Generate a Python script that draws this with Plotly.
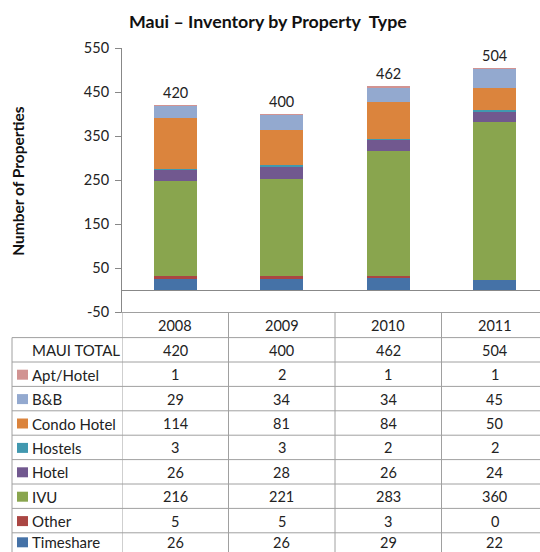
import plotly.graph_objects as go

# ---- data ----
years = ["2008", "2009", "2010", "2011"]
series_names = ["Apt/Hotel", "B&B", "Condo Hotel", "Hostels", "Hotel", "IVU", "Other", "Timeshare"]
apt_hotel = [1, 2, 1, 1]
bnb = [29, 34, 34, 45]
condo_hotel = [114, 81, 84, 50]
hostels = [3, 3, 2, 2]
hotel = [26, 28, 26, 24]
ivu = [216, 221, 283, 360]
other = [5, 5, 3, 0]
timeshare = [26, 26, 29, 22]
maui_total = [420, 400, 462, 504]
y_ticks = [-50, 50, 150, 250, 350, 450, 550]

series_values = [apt_hotel, bnb, condo_hotel, hostels, hotel, ivu, other, timeshare]
series_colors = ["#D19392", "#93A9CF", "#DB843D", "#4198AF", "#71588F", "#89A54E", "#AA4643", "#4572A7"]

FONT = "Lato, 'Open Sans', sans-serif"
W, H = 540, 552
L, R = 122, 0
TOP_PX, BOT_PX = 47.7, 311.7
PH = BOT_PX - TOP_PX
PW = W - L - R
COLW = 106.5

def px2py(py):
    return (BOT_PX - py) / PH

def px2px(px):
    return (px - L) / PW

xpos = list(range(len(years)))
fig = go.Figure()

# stacked bars, bottom to top = reverse of table order
for name, vals, col in reversed(list(zip(series_names, series_values, series_colors))):
    fig.add_trace(go.Bar(x=xpos, y=vals, name=name, marker=dict(color=col, line=dict(width=0)),
                         width=0.405, showlegend=False))

annos = []
# total labels
for xi, t in zip(xpos, maui_total):
    annos.append(dict(x=xi, y=t, xref="x", yref="y", text=str(t), showarrow=False,
                      xanchor="center", yanchor="middle",
                      yshift=13, font=dict(family=FONT, size=14.5, color="#222")))

shapes = []
LINE = "#a0a0a0"

# table geometry
header_top = BOT_PX
header_bot = 337.3
row_h = 24.4
row_labels = ["MAUI TOTAL"] + series_names
row_vals = [maui_total] + series_values
left_px = 12

def txt(x, y, text, xref="paper", xanchor="center", size=14.5, color="#222", **kw):
    d = dict(x=x, y=y, xref=xref, yref="paper", text=text, showarrow=False,
             xanchor=xanchor, yanchor="middle", font=dict(family=FONT, size=size, color=color))
    d.update(kw)
    return d

# header years
for xi, yr in zip(xpos, years):
    annos.append(txt(xi, px2py((header_top + header_bot) / 2 + 1), yr, xref="x"))

# vertical lines of table
for b in [-0.5, 0.5, 1.5, 2.5]:
    shapes.append(dict(type="line", xref="x", yref="paper", x0=b, x1=b, y0=0, y1=px2py(H + 5),
                       line=dict(color=LINE, width=1)))
shapes.append(dict(type="line", xref="paper", yref="paper", x0=px2px(left_px), x1=px2px(left_px),
                   y0=px2py(header_bot), y1=px2py(H + 5), line=dict(color=LINE, width=1)))

n_rows = len(row_labels)
for i, (lab, vals) in enumerate(zip(row_labels, row_vals)):
    top = header_bot + i * row_h
    shapes.append(dict(type="line", xref="paper", yref="paper", x0=px2px(left_px), x1=1,
                       y0=px2py(top), y1=px2py(top), line=dict(color=LINE, width=1)))
    cy = top + row_h / 2 + 0.5
    if i == n_rows - 1:
        cy = min(cy, H - 10)  # keep the last row's text inside the page
    annos.append(txt(px2px(30), px2py(cy), lab, xanchor="left", size=15))
    if i > 0:
        col = series_colors[i - 1]
        shapes.append(dict(type="rect", xref="paper", yref="paper", x0=px2px(17), x1=px2px(28),
                           y0=px2py(cy - 5), y1=px2py(cy + 5), fillcolor=col, line=dict(width=0)))
    for xi, v in zip(xpos, vals):
        annos.append(txt(xi, px2py(cy), str(v), xref="x"))

# title and axis title
annos.append(txt(px2px(268), px2py(21), "<b>Maui – Inventory by Property  Type</b>", size=17.8, color="#111"))
annos.append(txt(px2px(18.5), px2py(181), "<b>Number of Properties</b>", size=15.5, color="#111",
                 textangle=-90))

fig.update_layout(
    width=W, height=H,
    margin=dict(l=L, r=R, t=TOP_PX, b=H - BOT_PX, pad=0),
    paper_bgcolor="white", plot_bgcolor="white",
    barmode="stack", bargap=0.6,
    showlegend=False,
    xaxis=dict(range=[-0.5, -0.5 + PW / COLW], showticklabels=False, ticks="", showgrid=False,
               zeroline=False, showline=True, linecolor=LINE, linewidth=1, fixedrange=True),
    yaxis=dict(range=[-50, 550], tickvals=y_ticks, ticktext=[str(v) for v in y_ticks],
               ticks="outside", ticklen=6, tickcolor="#888",
               showline=True, linecolor="#888", linewidth=1, showgrid=False,
               zeroline=True, zerolinecolor="#888", zerolinewidth=1,
               tickfont=dict(family=FONT, size=14.5, color="#222"), ticklabelstandoff=3,
               fixedrange=True),
    shapes=shapes,
    annotations=annos,
)

fig.write_html("out.html", config={"displayModeBar": False},
               post_script="document.body.style.margin='0px';document.body.style.overflow='hidden';")
